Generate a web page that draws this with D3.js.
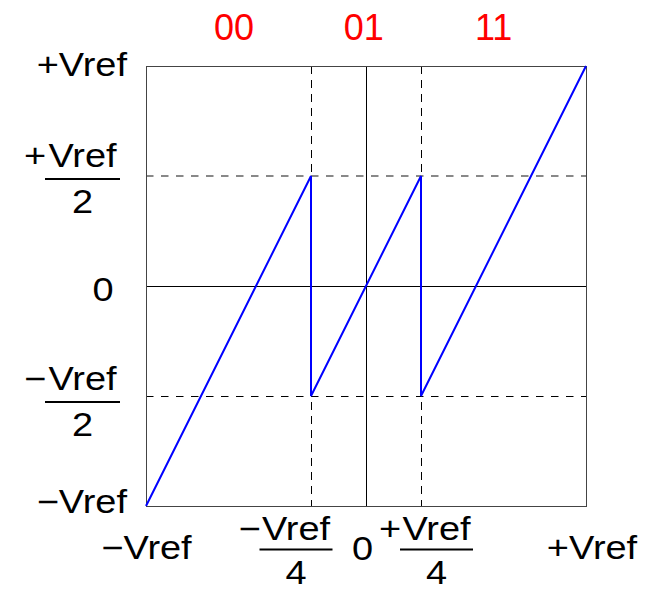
<!DOCTYPE html>
<html>
<head>
<meta charset="utf-8">
<script src="https://cdn.jsdelivr.net/npm/d3@7"></script>
<style>
  html, body { margin: 0; padding: 0; background: #fff; }
  svg { display: block; }
  text { font-family: "Liberation Sans", Arial, Helvetica, sans-serif; }
</style>
</head>
<body>
<svg id="chart" width="662" height="591"></svg>
<script>
// Sub-ranging ADC stage residue: input (x) vs residue output (y), in units of Vref
const transferX = [-1, -0.25, -0.25, 0.25, 0.25, 1];
const transferY = [-1, 0.5, -0.5, 0.5, -0.5, 1];

// Output codes for each input region
const codeLabels = ["00", "01", "11"];
const codeCenters = [-0.6, -0.01, 0.58];

// Axis ticks and their labels ("/" marks a stacked fraction)
const xTickValues = [-1, -0.25, 0, 0.25, 1];
const xTickLabels = ["−Vref", "−Vref/4", "0", "+Vref/4", "+Vref"];
const yTickValues = [1, 0.5, 0, -0.5, -1];
const yTickLabels = ["+Vref", "+Vref/2", "0", "−Vref/2", "−Vref"];

// Dashed guide levels
const xGuides = [-0.25, 0.25];
const yGuides = [0.5, -0.5];

const svg = d3.select("#chart");
const x = d3.scaleLinear().domain([-1, 1]).range([146, 586]);
const y = d3.scaleLinear().domain([-1, 1]).range([506, 66]);

const FONT = 33, SX = 1.15;

// dashed guides
svg.selectAll("line.gx").data(xGuides).join("line")
  .attr("x1", d => Math.round(x(d)) + 0.5).attr("x2", d => Math.round(x(d)) + 0.5)
  .attr("y1", y(1)).attr("y2", y(-1))
  .attr("stroke", "#000").attr("stroke-width", 1).attr("stroke-dasharray", "8,6");
svg.selectAll("line.gy").data(yGuides).join("line")
  .attr("x1", x(-1)).attr("x2", x(1))
  .attr("y1", d => Math.round(y(d)) + (d > 0 ? 0 : 0.5))
  .attr("y2", d => Math.round(y(d)) + (d > 0 ? 0 : 0.5))
  .attr("stroke", d => d > 0 ? "#888" : "#000")
  .attr("stroke-width", d => d > 0 ? 2 : 1)
  .attr("stroke-dasharray", "7.5,7.5");

// zero axes
svg.append("line")
  .attr("x1", Math.round(x(0)) + 0.5).attr("x2", Math.round(x(0)) + 0.5)
  .attr("y1", y(1)).attr("y2", y(-1)).attr("stroke", "#000");
svg.append("line")
  .attr("x1", x(-1)).attr("x2", x(1))
  .attr("y1", Math.round(y(0)) + 0.5).attr("y2", Math.round(y(0)) + 0.5)
  .attr("stroke", "#000");

// frame
svg.append("rect")
  .attr("x", x(-1) + 0.5).attr("y", y(1) + 0.5)
  .attr("width", x(1) - x(-1)).attr("height", y(-1) - y(1))
  .attr("fill", "none").attr("stroke", "#444").attr("stroke-width", 1);

// residue curve
const pts = transferX.map((v, i) => [x(v), y(transferY[i])]);
svg.append("path")
  .attr("d", d3.line()(pts))
  .attr("fill", "none").attr("stroke", "#0000ff").attr("stroke-width", 2)
  .attr("stroke-linejoin", "miter");

// code labels
svg.selectAll("text.code").data(codeLabels).join("text")
  .attr("x", (d, i) => x(codeCenters[i])).attr("y", 40)
  .attr("text-anchor", "middle").attr("font-size", 36).attr("fill", "#ff0000")
  .text(d => d);

// draws a label: plain text or sign + stacked fraction
function drawLabel(px, py, label, opt) {
  const g = svg.append("g").attr("transform", `translate(${px},${py}) scale(${SX},1)`);
  const parts = label.split("/");
  if (parts.length === 1) {
    g.append("text").attr("text-anchor", opt.anchor).attr("font-size", FONT)
      .attr("fill", "#000").text(label);
    return;
  }
  const sign = parts[0][0], num = parts[0].slice(1), den = parts[1];
  const half = opt.barW / 2 / SX;
  g.append("line").attr("x1", -half).attr("x2", half).attr("y1", 0).attr("y2", 0)
    .attr("stroke", "#000").attr("stroke-width", 2);
  g.append("text").attr("x", 0).attr("y", opt.numDy).attr("text-anchor", "middle")
    .attr("font-size", FONT).attr("fill", "#000").text(num);
  g.append("text").attr("x", 0).attr("y", opt.denDy).attr("text-anchor", "middle")
    .attr("font-size", FONT).attr("fill", "#000").text(den);
  g.append("text").attr("x", -half + 1).attr("y", opt.numDy).attr("text-anchor", "end")
    .attr("font-size", FONT).attr("fill", "#000").text(sign);
}

// y-axis labels
yTickValues.forEach((v, i) => {
  const lab = yTickLabels[i], ty = y(v);
  if (lab.includes("/")) {
    drawLabel(82.5, ty + (v > 0 ? 3 : 6), lab, { barW: 75, numDy: -12, denDy: 34 });
  } else if (lab === "0") {
    drawLabel(103, ty + 15, lab, { anchor: "middle" });
  } else {
    drawLabel(127, ty + (v > 0 ? 10 : 7), lab, { anchor: "end" });
  }
});

// x-axis labels
const xFracShift = { "−Vref/4": -15, "+Vref/4": 15.5 };
const xPlainShift = { "−Vref": 0.5, "0": -3.5, "+Vref": 6 };
xTickValues.forEach((v, i) => {
  const lab = xTickLabels[i], tx = x(v);
  if (lab.includes("/")) {
    drawLabel(tx + xFracShift[lab], 549.5, lab, { barW: 73, numDy: -10, denDy: 35 });
  } else {
    drawLabel(tx + xPlainShift[lab], lab === "0" ? 560 : 559, lab, { anchor: "middle" });
  }
});
</script>
</body>
</html>
